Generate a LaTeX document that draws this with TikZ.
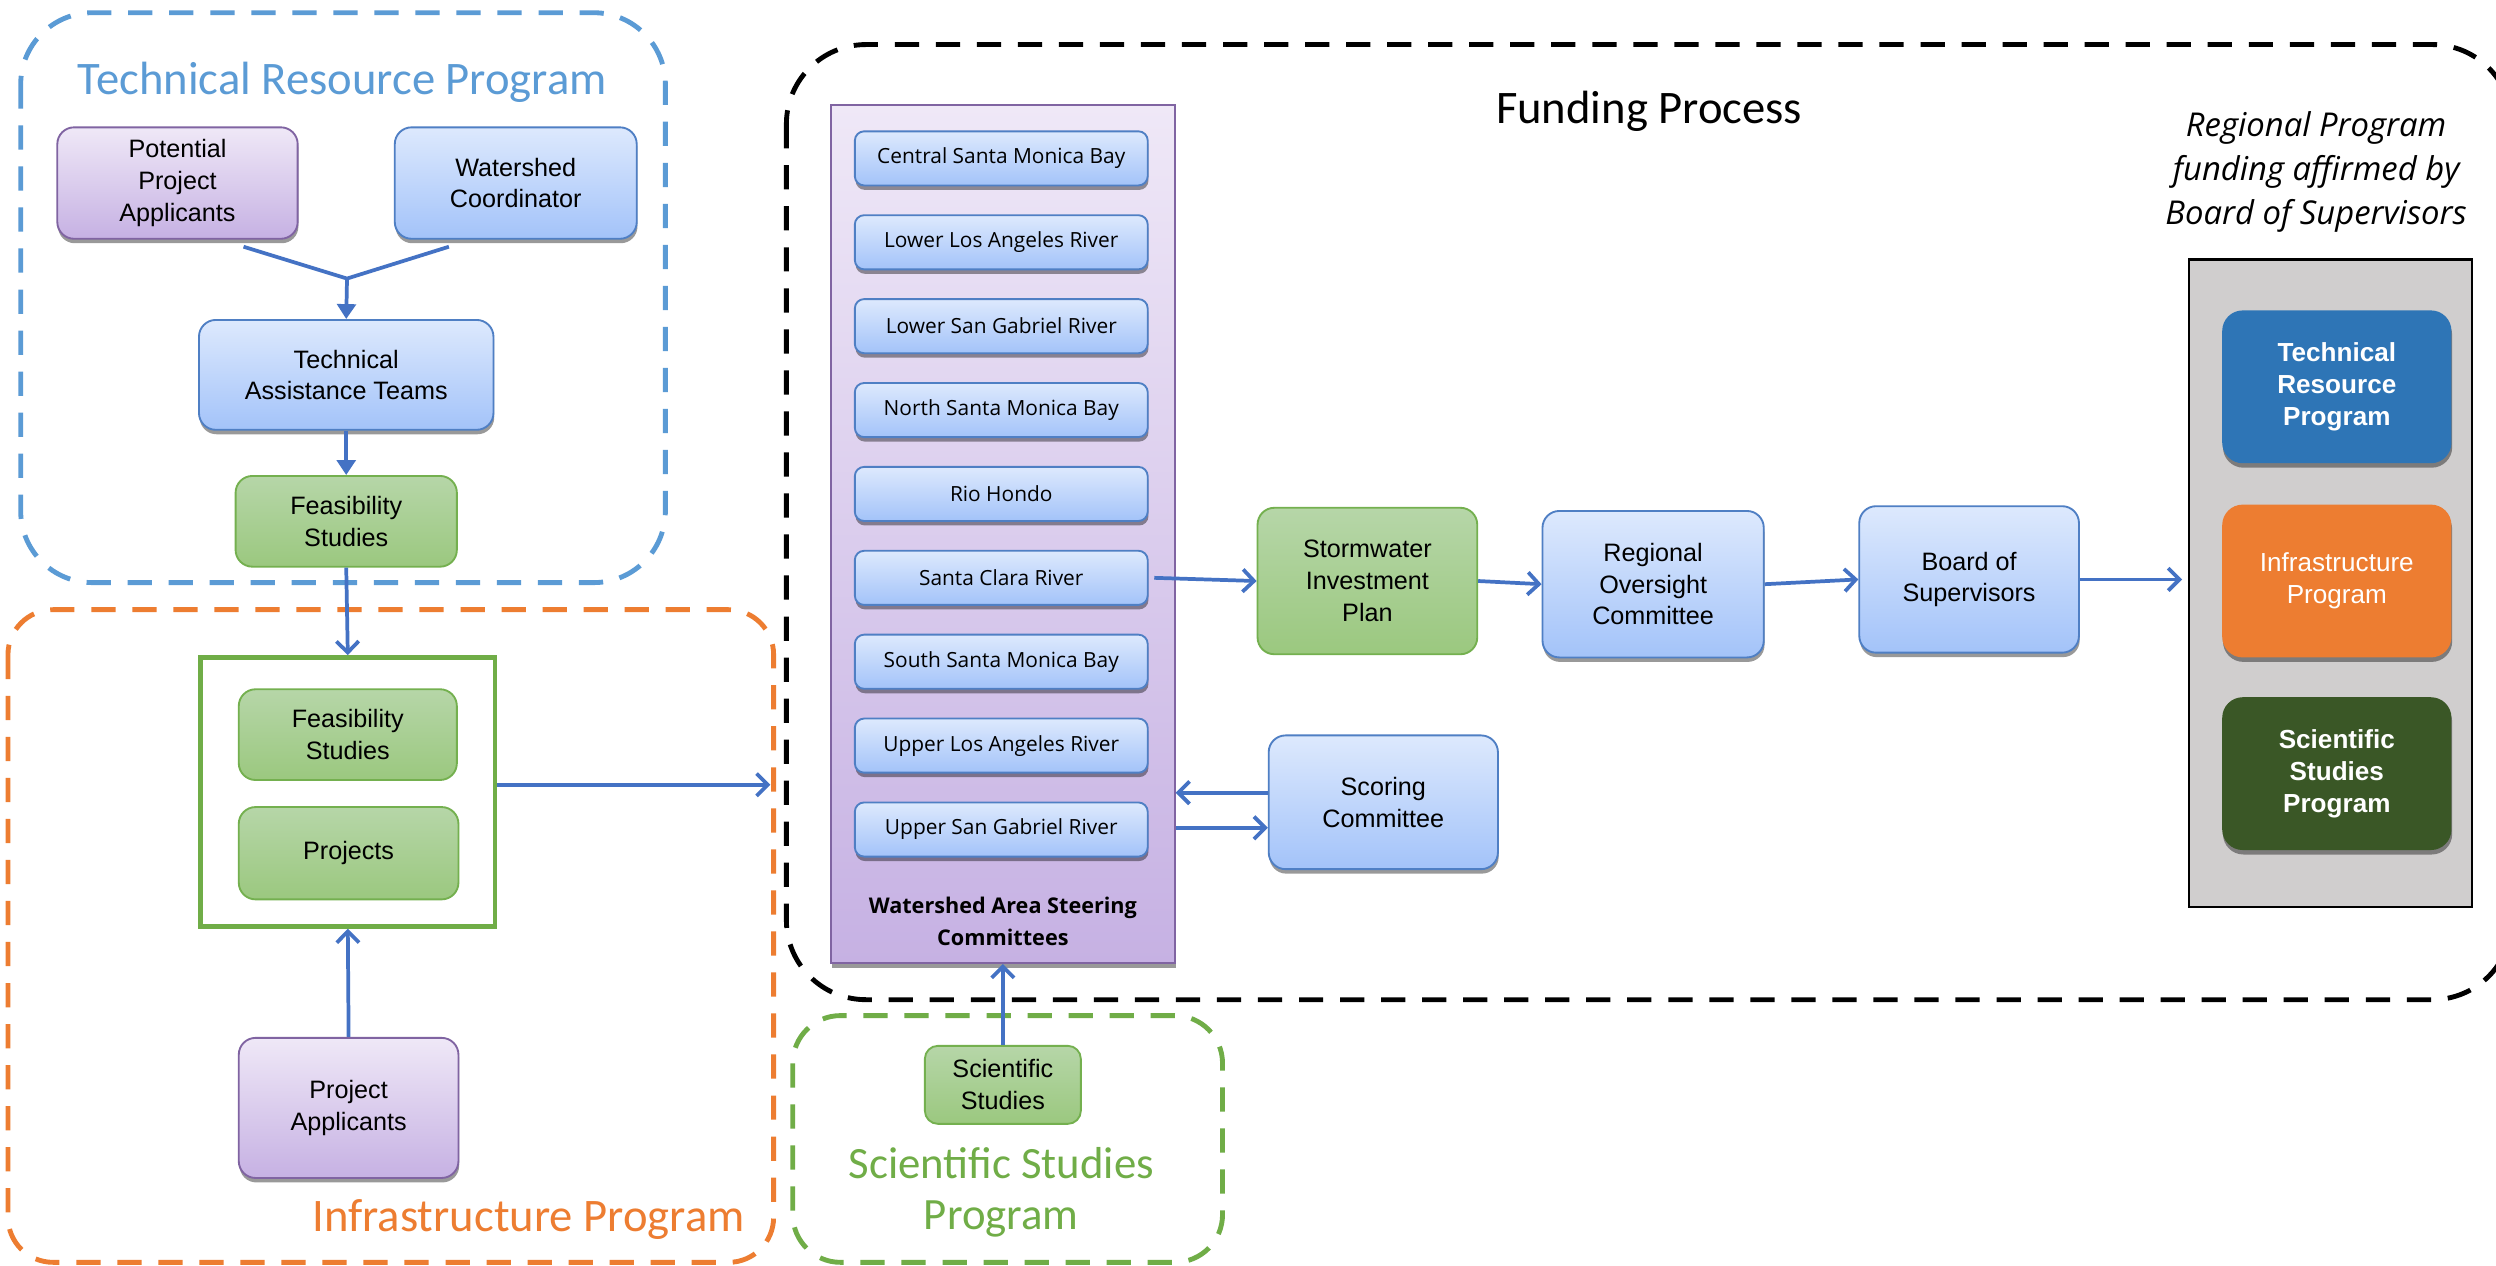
\documentclass[tikz,border=0pt]{standalone}
\usepackage{fontspec}
\setmainfont{Liberation Sans}
\newfontfamily\calib{Carlito}
\newfontfamily\cand{Open Sans}
\usetikzlibrary{arrows.meta,shadows,calc}
\definecolor{lineblue}{HTML}{4472C4}
\definecolor{trpblue}{HTML}{5B9BD5}
\definecolor{infor}{HTML}{ED7D31}
\definecolor{sspgreen}{HTML}{70AD47}
\definecolor{bluetop}{HTML}{DDE9FD}
\definecolor{bluebot}{HTML}{A3C3F9}
\definecolor{blueborder}{HTML}{4F7FC4}
\definecolor{purtop}{HTML}{EFE8F7}
\definecolor{purbot}{HTML}{C6B1E3}
\definecolor{purborder}{HTML}{8064A2}
\definecolor{grtop}{HTML}{B6D6A8}
\definecolor{grbot}{HTML}{9BC87F}
\definecolor{grborder}{HTML}{74B04F}
\definecolor{progblue}{HTML}{2E75B6}
\definecolor{progorange}{HTML}{ED7D31}
\definecolor{proggreen}{HTML}{3A5726}
\definecolor{panelgray}{HTML}{D0CECE}
\begin{document}
\begin{tikzpicture}[x=0.03cm,y=-0.03cm,
  sh/.style={drop shadow={shadow xshift=0.4pt,shadow yshift=-2.4pt,fill=black,opacity=0.4}},
  box/.style={rounded corners=9pt, line width=1pt, align=center, inner sep=2pt,
    font=\fontsize{13.5}{17}\selectfont},
  bluebox/.style={box, sh, draw=blueborder, top color=bluetop, bottom color=bluebot},
  purbox/.style={box, sh, draw=purborder, top color=purtop, bottom color=purbot},
  grbox/.style={box, draw=grborder, top color=grtop, bottom color=grbot},
  subbox/.style={rounded corners=5pt, line width=1pt, sh, draw=blueborder, top color=bluetop,
    bottom color=bluebot, minimum width=5.52cm, minimum height=1.02cm, inner sep=0pt,
    font=\cand\fontsize{11.2}{13}\selectfont},
  progbox/.style={rounded corners=11pt, sh, minimum width=4.32cm, minimum height=2.88cm,
    align=center, text=white, inner sep=0pt, font=\fontsize{14}{17}\selectfont},
  dashbox/.style={line width=2.6pt, dash pattern=on 13pt off 9pt},
  conn/.style={draw=lineblue, line width=2pt},
  barb/.style={conn, -{Straight Barb[length=6pt,width=12pt]}},
  tri/.style={conn, -{Triangle[length=8pt,width=10pt]}},
  title/.style={font=\calib\fontsize{25}{28}\selectfont, align=center, inner sep=0pt}
]
\clip (0,0) rectangle (1568,795);
\fill[white] (0,0) rectangle (1568,795);

% dashed program frames
\draw[dashbox, draw=trpblue, rounded corners=1.35cm] (13,8) rectangle (418,366);
\draw[dashbox, draw=infor, rounded corners=0.85cm] (5,383) rectangle (486,793);
\draw[dashbox, draw=black, rounded corners=1.5cm] (494,28) rectangle (1578,628);
\draw[dashbox, draw=sspgreen, rounded corners=0.9cm] (498,638) rectangle (768,793);

% titles
\node[title, text=trpblue] (trpt) at (215,52) {Technical Resource Program};
\node[title, text=infor] (inft) at (332,766) {Infrastructure Program};
\node[title] (fpt) at (1036,70) {Funding Process};
\node[title, text=sspgreen, font=\calib\fontsize{24}{27}\selectfont] (sspt) at (629,749) {Scientific Studies\\Program};

% Technical Resource Program
\node[purbox, minimum width=4.53cm, minimum height=2.1cm] (PPA) at (111.5,115) {Potential\\Project\\Applicants};
\node[bluebox, minimum width=4.56cm, minimum height=2.1cm] (WC) at (324,115) {Watershed\\Coordinator};
\node[bluebox, minimum width=5.55cm, minimum height=2.07cm] (TAT) at (217.5,235.5) {Technical\\Assistance Teams};
\node[grbox, minimum width=4.17cm, minimum height=1.71cm] (FS1) at (217.5,327.5) {Feasibility\\Studies};
\coordinate (p1) at (153,155);
\coordinate (p2) at (282,155);
\coordinate (jn) at (218,175);
\draw[conn] (p1) -- (jn) -- (p2);
\draw[tri] (jn) -- (TAT.north);
\draw[tri] (TAT.south) -- (FS1.north);

% Infrastructure Program
\node[draw=sspgreen, line width=2.5pt, fill=white, minimum width=5.55cm, minimum height=5.07cm, inner sep=0pt] (CT) at (218.5,497.5) {};
\node[grbox, minimum width=4.11cm, minimum height=1.71cm] (FS2) at (218.5,461.5) {Feasibility\\Studies};
\node[grbox, minimum width=4.14cm, minimum height=1.74cm] (PRJ) at (219,536) {Projects};
\node[purbox, minimum width=4.14cm, minimum height=2.64cm] (PA) at (219,696) {Project\\Applicants};
\draw[barb] (FS1.south) -- (CT.north);
\draw[barb] (PA.north) -- (CT.south);
\coordinate (infend) at (484,493);
\draw[barb] (CT.east |- infend) -- (infend);

% Watershed Area Steering Committees
\node[draw=purborder, line width=1pt, top color=purtop, bottom color=purbot, sh,
  minimum width=6.48cm, minimum height=16.17cm, inner sep=0pt] (WASC) at (630,335.5) {};
\node[subbox] (w1) at (629,99.5) {Central Santa Monica Bay};
\node[subbox] (w2) at (629,152.2) {Lower Los Angeles River};
\node[subbox] (w3) at (629,204.9) {Lower San Gabriel River};
\node[subbox] (w4) at (629,257.6) {North Santa Monica Bay};
\node[subbox] (w5) at (629,310.3) {Rio Hondo};
\node[subbox] (w6) at (629,363) {Santa Clara River};
\node[subbox] (w7) at (629,415.7) {South Santa Monica Bay};
\node[subbox] (w8) at (629,468.4) {Upper Los Angeles River};
\node[subbox] (w9) at (629,521.1) {Upper San Gabriel River};
\node[align=center, inner sep=0pt, font=\cand\bfseries\fontsize{11.6}{17}\selectfont] (wlab) at (630,579) {Watershed Area Steering\\Committees};

% funding chain
\node[grbox, minimum width=4.14cm, minimum height=2.76cm] (SIP) at (859,365) {Stormwater\\Investment\\Plan};
\node[bluebox, minimum width=4.17cm, minimum height=2.76cm] (ROC) at (1038.5,367) {Regional\\Oversight\\Committee};
\node[bluebox, minimum width=4.14cm, minimum height=2.76cm] (BOS) at (1237,364) {Board of\\Supervisors};
\node[bluebox, minimum width=4.32cm, minimum height=2.52cm] (SC) at (869,504) {Scoring\\Committee};

\draw[barb] ([xshift=3pt]w6.east) -- (SIP.west);
\draw[barb] (SIP.east) -- (ROC.west);
\draw[barb] (ROC.east) -- (BOS.west);

% right panel
\node[align=center, inner sep=0pt, font=\cand\itshape\fontsize{17.6}{23.5}\selectfont] (rp) at (1455,108) {Regional Program\\funding affirmed by\\Board of Supervisors};
\node[draw=black, line width=1.2pt, fill=panelgray, minimum width=5.34cm, minimum height=12.21cm, inner sep=0pt] (GP) at (1464,366.5) {};
\node[progbox, fill=progblue, font=\bfseries\fontsize{14}{17}\selectfont] (P1) at (1468,243) {Technical\\Resource\\Program};
\node[progbox, fill=progorange] (P2) at (1468,365) {Infrastructure\\Program};
\node[progbox, fill=proggreen, font=\bfseries\fontsize{14}{17}\selectfont] (P3) at (1468,486) {Scientific\\Studies\\Program};
\draw[barb, shorten >=3pt] (BOS.east) -- (GP.west |- BOS.east);

% scoring loop
\coordinate (sc1) at ($(SC.west)+(0,-6)$);
\coordinate (sc2) at ($(SC.west)+(0,16)$);
\draw[barb] (sc1) -- (WASC.east |- sc1);
\draw[barb] (WASC.east |- sc2) -- (sc2);

% Scientific Studies
\node[grbox, rounded corners=7pt, minimum width=2.94cm, minimum height=1.47cm] (SS) at (630,681.5) {Scientific\\Studies};
\draw[barb] (SS.north) -- (WASC.south);
\end{tikzpicture}
\end{document}
